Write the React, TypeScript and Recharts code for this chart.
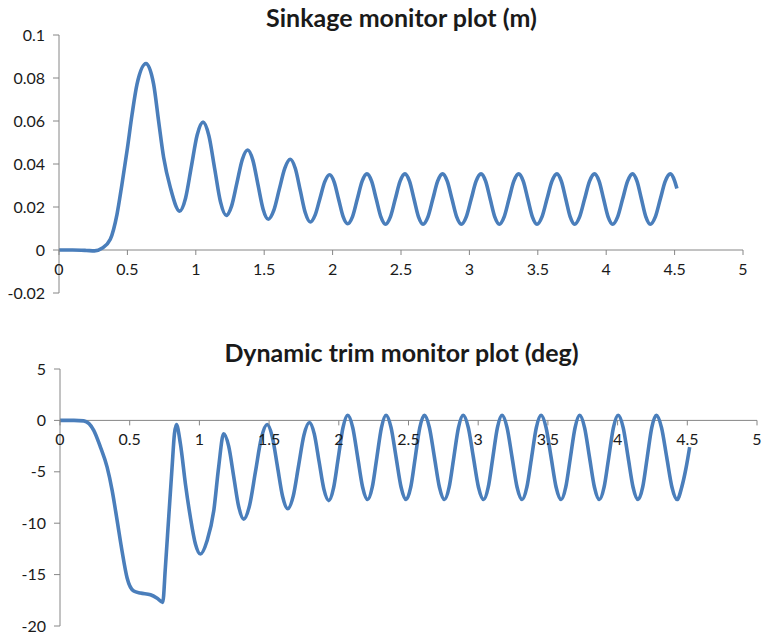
import { LineChart, Line, XAxis, YAxis, ReferenceLine } from "recharts";

// shared x ticks (time, s)
const X_TICKS = [0, 0.5, 1, 1.5, 2, 2.5, 3, 3.5, 4, 4.5, 5];

const SINK_Y_TICKS = [-0.02, 0, 0.02, 0.04, 0.06, 0.08, 0.1];
const TRIM_Y_TICKS = [-20, -15, -10, -5, 0, 5];

// sinkage (m)
const SINK_T = [
  0, 0.1, 0.2, 0.26, 0.314, 0.375, 0.424, 0.46, 0.497, 0.534, 0.57, 0.636,
  0.692, 0.728, 0.765, 0.814, 0.882, 0.925, 0.9675, 1.01, 1.053, 1.0955,
  1.138, 1.1805, 1.223, 1.262, 1.301, 1.34, 1.379, 1.417, 1.4545, 1.492,
  1.53, 1.57, 1.6105, 1.651, 1.691, 1.7275, 1.764, 1.8005, 1.837, 1.872,
  1.9075, 1.943, 1.978, 2.011, 2.044, 2.077, 2.11, 2.145, 2.1805, 2.216,
  2.251, 2.285, 2.319, 2.353, 2.387, 2.4225, 2.458, 2.4935, 2.529, 2.562,
  2.595, 2.628, 2.661, 2.697, 2.7325, 2.768, 2.804, 2.838, 2.8725, 2.907,
  2.941, 2.977, 3.013, 3.049, 3.085, 3.1185, 3.152, 3.1855, 3.219, 3.254,
  3.2895, 3.325, 3.36, 3.3935, 3.427, 3.4605, 3.494, 3.5305, 3.567, 3.6035,
  3.64, 3.672, 3.7045, 3.737, 3.769, 3.8055, 3.842, 3.8785, 3.915, 3.948,
  3.981, 4.014, 4.047, 4.0835, 4.12, 4.1565, 4.193, 4.225, 4.2575, 4.29,
  4.322, 4.359, 4.3955, 4.432, 4.469, 4.5, 4.517,
];
const SINK_M = [
  0, 0, -0.0002, -0.0004, 0.0008, 0.005, 0.0166, 0.0305, 0.046, 0.063, 0.077,
  0.0867, 0.077, 0.06, 0.043, 0.029, 0.0181, 0.0241, 0.0388, 0.0535, 0.0595,
  0.0532, 0.0378, 0.0224, 0.0161, 0.0205, 0.0313, 0.0421, 0.0465, 0.0418,
  0.0304, 0.019, 0.0143, 0.0184, 0.0283, 0.0381, 0.0422, 0.0379, 0.0276,
  0.0173, 0.013, 0.0162, 0.024, 0.0318, 0.035, 0.0317, 0.0236, 0.0155, 0.0122,
  0.0154, 0.0237, 0.032, 0.0354, 0.032, 0.0237, 0.0154, 0.012, 0.0154, 0.0237,
  0.032, 0.0354, 0.032, 0.0237, 0.0154, 0.012, 0.0154, 0.0237, 0.032, 0.0354,
  0.032, 0.0237, 0.0154, 0.012, 0.0154, 0.0237, 0.032, 0.0354, 0.032, 0.0237,
  0.0154, 0.012, 0.0154, 0.0237, 0.032, 0.0354, 0.032, 0.0237, 0.0154, 0.012,
  0.0154, 0.0237, 0.032, 0.0354, 0.032, 0.0237, 0.0154, 0.012, 0.0154, 0.0237,
  0.032, 0.0354, 0.032, 0.0237, 0.0154, 0.012, 0.0154, 0.0237, 0.032, 0.0354,
  0.032, 0.0237, 0.0154, 0.012, 0.0154, 0.0237, 0.032, 0.0354, 0.0322, 0.0286,
];

// dynamic trim (deg)
const TRIM_T = [
  0, 0.1, 0.17, 0.242, 0.29, 0.338, 0.374, 0.41, 0.445, 0.481, 0.529, 0.577,
  0.649, 0.697, 0.737, 0.756, 0.78, 0.804, 0.821, 0.835, 0.864, 0.9, 0.935,
  0.971, 1.007, 1.055, 1.103, 1.138, 1.174, 1.21, 1.246, 1.282, 1.318, 1.36,
  1.402, 1.444, 1.486, 1.523, 1.56, 1.597, 1.634, 1.673, 1.7115, 1.75, 1.789,
  1.824, 1.8585, 1.893, 1.928, 1.962, 1.996, 2.03, 2.064, 2.1, 2.1355, 2.171,
  2.207, 2.24, 2.273, 2.306, 2.339, 2.375, 2.411, 2.447, 2.483, 2.516, 2.5485,
  2.581, 2.614, 2.65, 2.686, 2.722, 2.758, 2.7915, 2.825, 2.8585, 2.892,
  2.929, 2.9655, 3.002, 3.039, 3.072, 3.105, 3.138, 3.171, 3.207, 3.243,
  3.279, 3.315, 3.349, 3.383, 3.417, 3.451, 3.487, 3.523, 3.559, 3.595,
  3.628, 3.6615, 3.695, 3.728, 3.763, 3.7985, 3.834, 3.869, 3.903, 3.9365,
  3.97, 4.004, 4.04, 4.0755, 4.111, 4.147, 4.18, 4.2125, 4.245, 4.278, 4.315,
  4.3525, 4.39, 4.427, 4.46, 4.49, 4.517,
];
const TRIM_DEG = [
  0, 0, -0.05, -0.97, -2.6, -4.55, -6.8, -9.75, -12.7, -15.3, -16.6, -16.8,
  -16.96, -17.3, -17.7, -14.3, -9.4, -4.55, -1.3, -0.4, -2.3, -6.2, -9.4, -12,
  -13, -11.7, -8.8, -4.55, -1.3, -2.51, -5.45, -8.39, -9.6, -8.26, -5.0,
  -1.74, -0.4, -1.6, -4.5, -7.4, -8.6, -7.37, -4.4, -1.43, -0.2, -1.31, -4.0,
  -6.69, -7.8, -6.59, -3.65, -0.71, 0.5, -0.7, -3.6, -6.5, -7.7, -6.5, -3.6,
  -0.7, 0.5, -0.7, -3.6, -6.5, -7.7, -6.5, -3.6, -0.7, 0.5, -0.7, -3.6, -6.5,
  -7.7, -6.5, -3.6, -0.7, 0.5, -0.7, -3.6, -6.5, -7.7, -6.5, -3.6, -0.7, 0.5,
  -0.7, -3.6, -6.5, -7.7, -6.5, -3.6, -0.7, 0.5, -0.7, -3.6, -6.5, -7.7, -6.5,
  -3.6, -0.7, 0.5, -0.7, -3.6, -6.5, -7.7, -6.5, -3.6, -0.7, 0.5, -0.7, -3.6,
  -6.5, -7.7, -6.5, -3.6, -0.7, 0.5, -0.7, -3.6, -6.5, -7.7, -6.5, -4.7, -2.6,
];

const AXIS = "#868686";
const SERIES = "#4A7EBB";
const TEXT = "#1a1a1a";
const FONT = "Lato, 'Open Sans', sans-serif";

interface PanelProps {
  title: string;
  times: number[];
  values: number[];
  yTicks: number[];
  top: number;
  height: number;
  plotTop: number;
  plotBottom: number;
  plotLeft: number;
  plotRight: number;
  titleY: number;
}

function Panel({
  title,
  times,
  values,
  yTicks,
  top,
  height,
  plotTop,
  plotBottom,
  plotLeft,
  plotRight,
  titleY,
}: PanelProps) {
  const data = times.map((t, i) => ({ t, v: values[i] }));
  const yMin = yTicks[0];
  const yMax = yTicks[yTicks.length - 1];
  // x axis crosses at y = 0, Excel style
  const zeroY = plotTop + ((yMax - 0) / (yMax - yMin)) * (plotBottom - plotTop);

  const renderXTick = (props: any) => {
    const { x, payload } = props;
    return (
      <g>
        <line x1={x} x2={x} y1={zeroY} y2={zeroY + 5} stroke={AXIS} />
        <text
          x={x}
          y={zeroY + 25}
          textAnchor="middle"
          fontSize={16}
          fontFamily={FONT}
          fill={TEXT}
        >
          {payload.value}
        </text>
      </g>
    );
  };

  return (
    <div style={{ position: "absolute", left: 0, top, width: 763, height }}>
      <div
        style={{
          position: "absolute",
          left: 0,
          width: 763,
          top: titleY - 15,
          height: 30,
          lineHeight: "30px",
          textAlign: "center",
          fontFamily: FONT,
          fontWeight: 700,
          fontSize: 25,
          color: TEXT,
          paddingLeft: 40,
          boxSizing: "border-box",
          whiteSpace: "nowrap",
        }}
      >
        {title}
      </div>
      <LineChart
        width={763}
        height={height}
        data={data}
        margin={{ top: plotTop, right: 763 - plotRight, bottom: 0, left: 0 }}
      >
        <XAxis
          dataKey="t"
          type="number"
          domain={[0, 5]}
          ticks={X_TICKS}
          interval={0}
          height={height - plotBottom}
          axisLine={false}
          tickLine={false}
          tick={renderXTick}
        />
        <YAxis
          type="number"
          domain={[yMin, yMax]}
          ticks={yTicks}
          interval={0}
          width={plotLeft}
          tickSize={6}
          tickMargin={8}
          axisLine={{ stroke: AXIS }}
          tickLine={{ stroke: AXIS }}
          tick={{ fill: TEXT, fontSize: 16, fontFamily: FONT }}
        />
        <ReferenceLine y={0} stroke={AXIS} strokeWidth={1} />
        <Line
          type="monotone"
          dataKey="v"
          stroke={SERIES}
          strokeWidth={3.6}
          dot={false}
          isAnimationActive={false}
        />
      </LineChart>
    </div>
  );
}

export default function App() {
  return (
    <div
      style={{
        position: "absolute",
        left: 0,
        top: 0,
        width: 763,
        height: 638,
        background: "#fff",
        overflow: "hidden",
      }}
    >
      <Panel
        title="Sinkage monitor plot (m)"
        times={SINK_T}
        values={SINK_M}
        yTicks={SINK_Y_TICKS}
        top={0}
        height={310}
        plotTop={35}
        plotBottom={293}
        plotLeft={59}
        plotRight={743}
        titleY={17}
      />
      <Panel
        title="Dynamic trim monitor plot (deg)"
        times={TRIM_T}
        values={TRIM_DEG}
        yTicks={TRIM_Y_TICKS}
        top={330}
        height={308}
        plotTop={39}
        plotBottom={296}
        plotLeft={60}
        plotRight={757}
        titleY={22}
      />
    </div>
  );
}
